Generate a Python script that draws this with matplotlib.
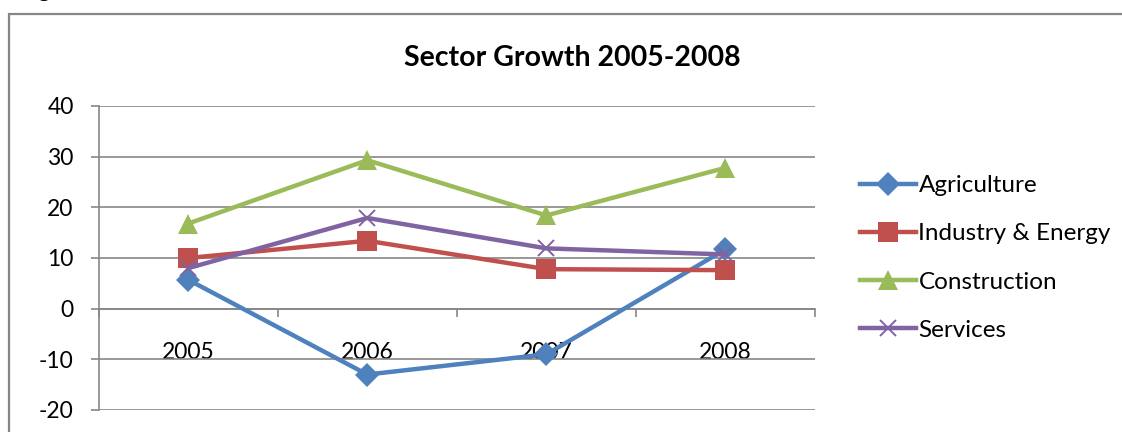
import matplotlib
matplotlib.use("Agg")
import matplotlib.pyplot as plt
from matplotlib.lines import Line2D

plt.rcParams['font.family'] = ['Lato', 'DejaVu Sans']
plt.rcParams['axes.unicode_minus'] = False

# growth per sector, in percent
years = ["2005", "2006", "2007", "2008"]
agriculture = [5.7, -13.0, -9.0, 11.7]
industry_energy = [10.0, 13.4, 7.8, 7.6]
construction = [16.8, 29.3, 18.4, 27.8]
services = [8.0, 17.9, 11.9, 10.7]

series = [
    ("Agriculture", agriculture, "#4F81BD", "D", 12),
    ("Industry & Energy", industry_energy, "#C0504D", "s", 14),
    ("Construction", construction, "#9BBB59", "^", 15),
    ("Services", services, "#8064A2", "x", 12),
]

W, H = 1122, 432
fig = plt.figure(figsize=(W / 100, H / 100), dpi=100)

# chart frame (runs off the right and bottom edges)
frame = plt.Rectangle((9 / W, -0.05), 1.2, (H - 14) / H + 0.05,
                      transform=fig.transFigure, fill=False,
                      edgecolor="#868686", linewidth=1.6)
fig.patches.append(frame)
# caption above the frame, mostly off the top of the page
fig.text(0.018, 1.006, "Figure", fontsize=17, ha="left", va="baseline",
         transform=fig.transFigure)

ax = fig.add_axes([98.7 / W, 1 - 410 / H, (815 - 98.7) / W, (410 - 106) / H])

x = [i + 0.5 for i in range(len(years))]
for name, vals, color, marker, ms in series:
    ax.plot(x, vals, color=color, linewidth=3.2, marker=marker,
            markersize=ms, markeredgewidth=1.4 if marker == "x" else 0,
            label=name, zorder=3)

ax.set_xlim(0, 4)
ax.set_ylim(-20, 40)
ax.set_yticks(range(-20, 41, 10))
ax.grid(axis="y", color="#868686", linewidth=1.2)
ax.set_axisbelow(True)

for side in ("top", "right"):
    ax.spines[side].set_visible(False)
ax.spines["left"].set_color("#868686")
ax.spines["left"].set_linewidth(1.2)
ax.spines["bottom"].set_position(("data", 0))
ax.spines["bottom"].set_color("#868686")
ax.spines["bottom"].set_linewidth(1.2)

# category boundaries as ticks, labels centred in each category
ax.set_xticks([0, 1, 2, 3, 4])
ax.set_xticklabels([])
ax.set_xticks(x, minor=True)
ax.set_xticklabels(years, minor=True)
ax.tick_params(axis="x", which="major", direction="out", length=6,
               color="#868686", width=1.2)
ax.tick_params(axis="x", which="minor", length=0, pad=24, labelsize=16.5)
ax.tick_params(axis="y", direction="out", length=6, color="#868686",
               width=1.2, labelsize=16.5, pad=12)

ax.set_title("Sector Growth 2005-2008", fontsize=20.5, fontweight="bold",
             pad=0, x=(572 - 98.7) / (815 - 98.7), y=1.0 + 40 / 304)

handles = []
for name, vals, color, marker, ms in series:
    handles.append(Line2D([], [], color=color, linewidth=3.2, marker=marker,
                          markersize=ms, markeredgewidth=1.4 if marker == "x" else 0))
fig.legend(handles, [s[0] for s in series], loc="center left",
           bbox_to_anchor=(848 / W, 1 - 258 / H), frameon=False,
           fontsize=17.5, handlelength=2.3, handletextpad=0.1,
           labelspacing=1.12, borderpad=0)

fig.savefig("out.png", dpi=100)
